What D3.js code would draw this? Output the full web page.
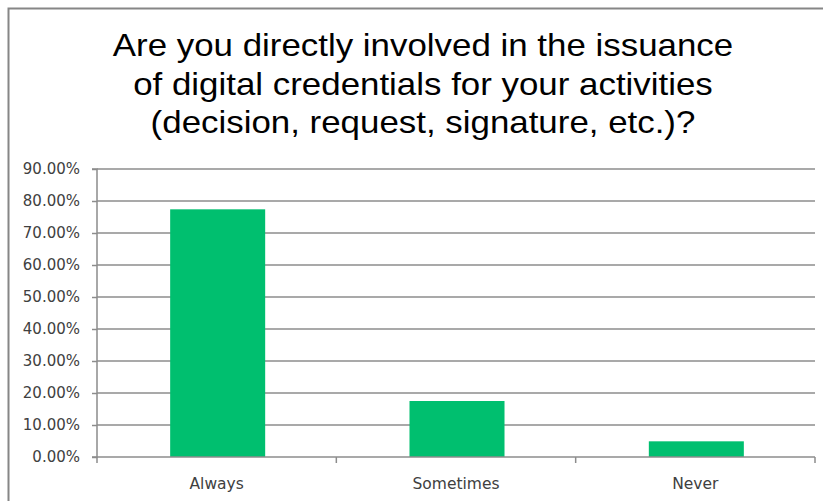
<!DOCTYPE html>
<html>
<head>
<meta charset="utf-8">
<script src="https://cdn.jsdelivr.net/npm/d3@7"></script>
<style>
  html, body { margin: 0; padding: 0; background: #fff; }
  svg { display: block; }
</style>
</head>
<body>
<svg id="chart" width="823" height="501"></svg>
<script>
// Survey answers and their shares (percent)
const categories = ["Always", "Sometimes", "Never"];
const shares = [77.4, 17.5, 4.9];
const yTicks = [0, 10, 20, 30, 40, 50, 60, 70, 80, 90];
const titleLines = [
  "Are you directly involved in the issuance",
  "of digital credentials for your activities",
  "(decision, request, signature, etc.)?"
];

const svg = d3.select("#chart");
const W = 823, H = 501;
const plot = { left: 97, right: 815, top: 169, bottom: 457 };
const labelFont = "DejaVu Sans, sans-serif";

// Outer chart frame
svg.append("rect")
  .attr("x", 8.5).attr("y", 8.5)
  .attr("width", W + 20).attr("height", H + 20)
  .attr("fill", "#fff")
  .attr("stroke", "#868686").attr("stroke-width", 2);

// Title, slightly widened
svg.append("g")
  .selectAll("text")
  .data(titleLines)
  .join("text")
  .attr("transform", (d, i) => `translate(423,${56 + i * 38.5}) scale(1.09,1)`)
  .attr("text-anchor", "middle")
  .attr("font-family", "Liberation Sans, Arial, sans-serif")
  .attr("font-size", 32)
  .attr("fill", "#000")
  .text(d => d);

const x = d3.scaleBand().domain(categories).range([plot.left, plot.right]).padding(0);
const y = d3.scaleLinear().domain([0, 90]).range([plot.bottom, plot.top]);

// Horizontal gridlines
svg.append("g")
  .selectAll("line")
  .data(yTicks.filter(t => t > 0))
  .join("line")
  .attr("x1", plot.left).attr("x2", plot.right)
  .attr("y1", d => y(d)).attr("y2", d => y(d))
  .attr("stroke", "#8c8c8c").attr("stroke-width", 1.5);

// Bars
const barW = x.bandwidth() * 0.397;
svg.append("g")
  .selectAll("rect")
  .data(categories.map((c, i) => ({ c, v: shares[i] })))
  .join("rect")
  .attr("x", d => x(d.c) + x.bandwidth() / 2 - barW / 2 + 1)
  .attr("y", d => y(d.v))
  .attr("width", barW)
  .attr("height", d => y(0) - y(d.v))
  .attr("fill", "#00bf6f");

// Y axis
const yAxis = svg.append("g")
  .attr("transform", `translate(${plot.left},0)`)
  .call(d3.axisLeft(y).tickValues(yTicks).tickSize(5).tickPadding(12)
    .tickFormat(d => d.toFixed(2) + "%"));
yAxis.selectAll("path, line").attr("stroke", "#8c8c8c").attr("stroke-width", 1.5);
yAxis.select(".domain").attr("d", `M-5,${plot.top}H0V${plot.bottom}H-5`);
yAxis.selectAll("text")
  .attr("font-family", labelFont)
  .attr("font-size", 15)
  .attr("fill", "#404040");

// X axis
const xAxis = svg.append("g")
  .attr("transform", `translate(0,${plot.bottom})`)
  .call(d3.axisBottom(x).tickSize(0).tickPadding(21));
xAxis.select(".domain").attr("stroke", "#8c8c8c").attr("stroke-width", 1.5)
  .attr("d", `M${plot.left},0H${plot.right}`);
xAxis.selectAll("text")
  .attr("font-family", labelFont)
  .attr("font-size", 15.5)
  .attr("fill", "#404040");
// Category boundary ticks
svg.append("g")
  .selectAll("line")
  .data([0, 1, 2, 3])
  .join("line")
  .attr("x1", i => plot.left + i * x.step())
  .attr("x2", i => plot.left + i * x.step())
  .attr("y1", plot.bottom).attr("y2", plot.bottom + 6)
  .attr("stroke", "#8c8c8c").attr("stroke-width", 1.5);
</script>
</body>
</html>
